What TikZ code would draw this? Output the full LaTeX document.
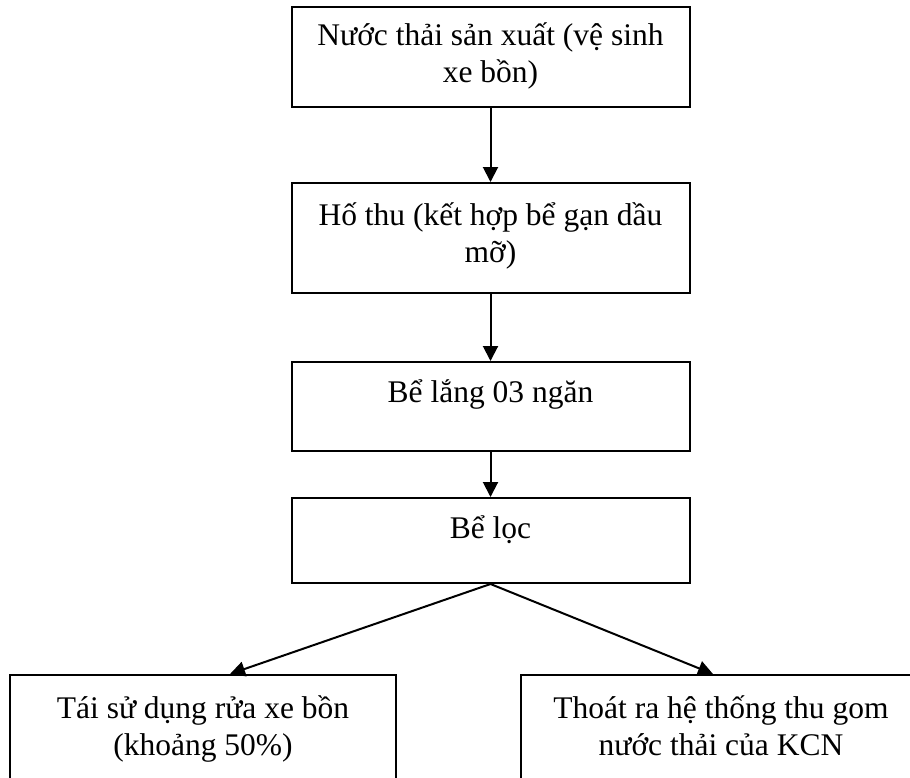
\documentclass[tikz,border=0pt]{standalone}
\usepackage{fontspec}
\setmainfont{Liberation Serif}
\usetikzlibrary{arrows.meta}

\begin{document}
\begin{tikzpicture}[x=1pt,y=-1pt,
		box/.style={draw,line width=2pt,align=center,inner sep=0pt,font=\fontsize{31.5}{37}\selectfont},
		flow/.style={line width=2pt,-{Triangle[length=15pt,width=15pt]}}]
		\useasboundingbox (0,0) rectangle (910,777);
		\clip (0,0) rectangle (910,777);
		\node[box,minimum width=398,minimum height=100,text depth=9pt] (src) at (490.5,57) {Nước thải sản xuất (vệ sinh\\xe bồn)};
		\node[box,minimum width=398,minimum height=110,text depth=11pt] (trap) at (490.5,238) {Hố thu (kết hợp bể gạn dầu\\mỡ)};
		\node[box,minimum width=398,minimum height=89,text height=20pt,text depth=29pt] (settle) at (490.5,406.5) {Bể lắng 03 ngăn};
		\node[box,minimum width=398,minimum height=85,text height=20pt,text depth=25pt] (filt) at (490.5,540.5) {Bể lọc};
		\node[box,minimum width=386,minimum height=116,text depth=14pt] (reuse) at (203,733) {Tái sử dụng rửa xe bồn\\(khoảng 50\%)};
		\node[box,minimum width=400,minimum height=116,text depth=14pt] (drain) at (721,733) {Thoát ra hệ thống thu gom\\nước thải của KCN};
		\draw[flow] (src) -- (trap);
		\draw[flow] (trap) -- (settle);
		\draw[flow] (settle) -- (filt);
		\draw[flow] (filt.south) -- ([xshift=27pt]reuse.north);
		\draw[flow] (filt.south) -- ([xshift=-8pt]drain.north);
\end{tikzpicture}
\end{document}
